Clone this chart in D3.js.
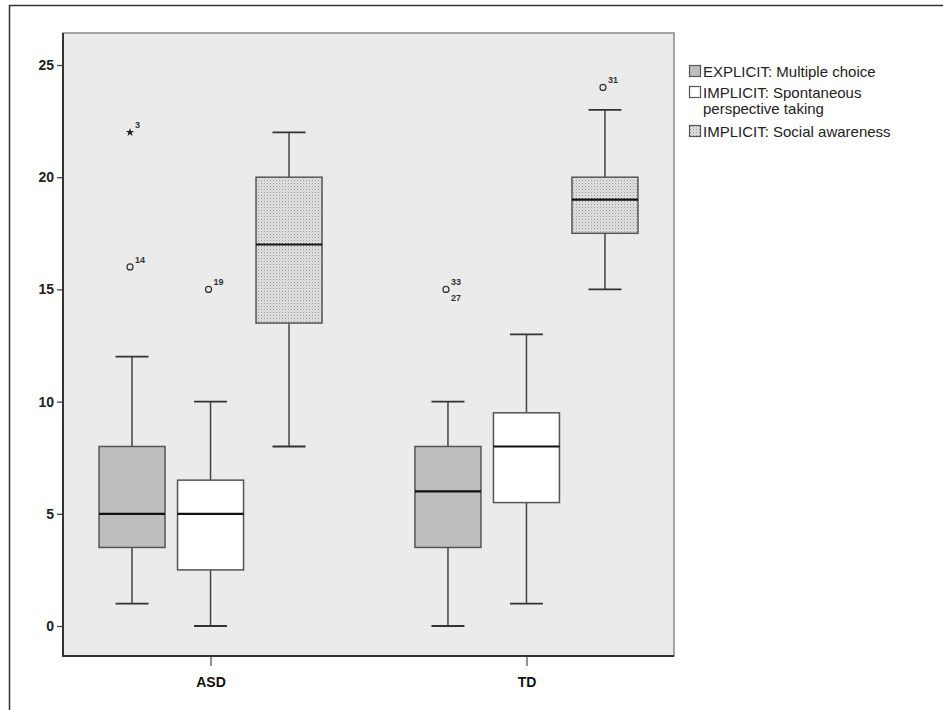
<!DOCTYPE html>
<html>
<head>
<meta charset="utf-8">
<script src="https://cdn.jsdelivr.net/npm/d3@7"></script>
<style>
  body { margin: 0; background: #fff; }
  text { font-family: Arial, "Liberation Sans", sans-serif; }
</style>
</head>
<body>
<svg width="943" height="710"></svg>
<script>
var groups = ["ASD", "TD"];
var seriesNames = ["EXPLICIT: Multiple choice", "IMPLICIT: Spontaneous perspective taking", "IMPLICIT: Social awareness"];
var yTicks = [0, 5, 10, 15, 20, 25];

// [min whisker, q1, median, q3, max whisker] per group
var explicitStats = [[1, 3.5, 5, 8, 12], [0, 3.5, 6, 8, 10]];
var spontaneousStats = [[0, 2.5, 5, 6.5, 10], [1, 5.5, 8, 9.5, 13]];
var socialStats = [[8, 13.5, 17, 20, 22], [15, 17.5, 19, 20, 23]];

// outliers: group, series index, value, case label, kind
var outliers = [
  { g: "ASD", s: 0, v: 22, label: "3", kind: "star" },
  { g: "ASD", s: 0, v: 16, label: "14", kind: "circle" },
  { g: "ASD", s: 1, v: 15, label: "19", kind: "circle" },
  { g: "TD", s: 0, v: 15, label: "33", kind: "circle", second: "27" },
  { g: "TD", s: 2, v: 24, label: "31", kind: "circle" }
];

var svg = d3.select("svg");
var plotL = 63, plotR = 674, plotT = 33, plotB = 656;

// outer frame
svg.append("path")
   .attr("d", "M9.5,710 L9.5,5.5 L943,5.5")
   .attr("fill", "none")
   .attr("stroke", "#333")
   .attr("stroke-width", 1.5);

var defs = svg.append("defs");
var pat = defs.append("pattern")
   .attr("id", "dots")
   .attr("patternUnits", "userSpaceOnUse")
   .attr("width", 3).attr("height", 3);
pat.append("rect").attr("width", 3).attr("height", 3).attr("fill", "#e0e0e0");
pat.append("rect").attr("width", 1).attr("height", 1).attr("fill", "#999");
pat.append("rect").attr("x", 1.5).attr("y", 1.5).attr("width", 1).attr("height", 1).attr("fill", "#c0c0c0");

var fills = ["#bebebe", "#ffffff", "url(#dots)"];

var xScale = d3.scalePoint().domain(groups).range([plotL, plotR]).padding(0.467);
var offset = d3.scalePoint().domain([0, 1, 2]).range([-78.5, 78.5]);
var yScale = d3.scaleLinear().domain([0, 25]).range([626, 65]);
var boxW = 66;

// plot background
svg.append("rect")
   .attr("x", plotL).attr("y", plotT)
   .attr("width", plotR - plotL).attr("height", plotB - plotT)
   .attr("fill", "#ebebeb")
   .attr("stroke", "#8a8a8a")
   .attr("stroke-width", 1.5);

// axes
svg.append("g")
   .attr("transform", "translate(" + plotL + ",0)")
   .call(d3.axisLeft(yScale).tickValues(yTicks).tickSize(6).tickPadding(3))
   .call(function(g) {
     g.select(".domain").remove();
     g.selectAll("line").attr("stroke", "#444").attr("stroke-width", 1.3);
     g.selectAll("text").attr("font-size", "14px").attr("font-weight", "bold")
      .attr("fill", "#222").attr("font-family", "Arial, 'Liberation Sans', sans-serif");
   });

svg.append("g")
   .attr("transform", "translate(0," + plotB + ")")
   .call(d3.axisBottom(xScale).tickSize(10).tickPadding(11))
   .call(function(g) {
     g.select(".domain").remove();
     g.selectAll("line").attr("stroke", "#555").attr("stroke-width", 1.3);
     g.selectAll("text").attr("font-size", "14px").attr("font-weight", "bold")
      .attr("fill", "#111").attr("font-family", "Arial, 'Liberation Sans', sans-serif");
   });

// axis lines (left and bottom darker)
svg.append("path")
   .attr("d", "M" + plotL + "," + plotT + " L" + plotL + "," + plotB + " L" + plotR + "," + plotB)
   .attr("fill", "none").attr("stroke", "#333").attr("stroke-width", 2);

var allStats = [explicitStats, spontaneousStats, socialStats];

allStats.forEach(function(stats, s) {
  var g = svg.append("g");
  stats.forEach(function(d, i) {
    var cx = xScale(groups[i]) + offset(s);
    // whiskers
    g.append("line").attr("x1", cx).attr("x2", cx)
     .attr("y1", yScale(d[0])).attr("y2", yScale(d[1]))
     .attr("stroke", "#444").attr("stroke-width", 1.5);
    g.append("line").attr("x1", cx).attr("x2", cx)
     .attr("y1", yScale(d[3])).attr("y2", yScale(d[4]))
     .attr("stroke", "#444").attr("stroke-width", 1.5);
    [d[0], d[4]].forEach(function(v) {
      g.append("line").attr("x1", cx - 16.5).attr("x2", cx + 16.5)
       .attr("y1", yScale(v)).attr("y2", yScale(v))
       .attr("stroke", "#333").attr("stroke-width", 1.8);
    });
    // box
    g.append("rect")
     .attr("x", cx - boxW / 2).attr("y", yScale(d[3]))
     .attr("width", boxW).attr("height", yScale(d[1]) - yScale(d[3]))
     .attr("fill", fills[s]).attr("stroke", "#555").attr("stroke-width", 1.5);
    // median
    g.append("line").attr("x1", cx - boxW / 2).attr("x2", cx + boxW / 2)
     .attr("y1", yScale(d[2])).attr("y2", yScale(d[2]))
     .attr("stroke", "#111").attr("stroke-width", 2.2);
  });
});

// outliers
outliers.forEach(function(o) {
  var cx = xScale(o.g) + offset(o.s) - 2;
  var cy = yScale(o.v);
  if (o.kind === "star") {
    svg.append("path")
       .attr("d", d3.symbol().type(d3.symbolStar).size(22)())
       .attr("transform", "translate(" + cx + "," + cy + ")")
       .attr("fill", "#222");
  } else {
    svg.append("circle").attr("cx", cx).attr("cy", cy).attr("r", 3)
       .attr("fill", "none").attr("stroke", "#333").attr("stroke-width", 1.2);
  }
  svg.append("text").attr("x", cx + 5).attr("y", cy - 4)
     .attr("font-size", "9px").attr("font-weight", "bold").attr("fill", "#333")
     .text(o.label);
  if (o.second) {
    svg.append("text").attr("x", cx + 5).attr("y", cy + 12)
       .attr("font-size", "9px").attr("font-weight", "bold").attr("fill", "#333")
       .text(o.second);
  }
});

// legend
var legendRows = [
  { lines: ["EXPLICIT: Multiple choice"], y: 71 },
  { lines: ["IMPLICIT: Spontaneous", "perspective taking"], y: 92 },
  { lines: ["IMPLICIT: Social awareness"], y: 131 }
];
legendRows.forEach(function(r, i) {
  svg.append("rect").attr("x", 689.5).attr("y", r.y - 5.5)
     .attr("width", 11).attr("height", 11)
     .attr("fill", fills[i]).attr("stroke", "#555").attr("stroke-width", 1.2);
  r.lines.forEach(function(t, j) {
    svg.append("text").attr("x", 703).attr("y", r.y + 5.5 + j * 16)
       .attr("font-size", "15px").attr("fill", "#222")
       .text(t);
  });
});
</script>
</body>
</html>
